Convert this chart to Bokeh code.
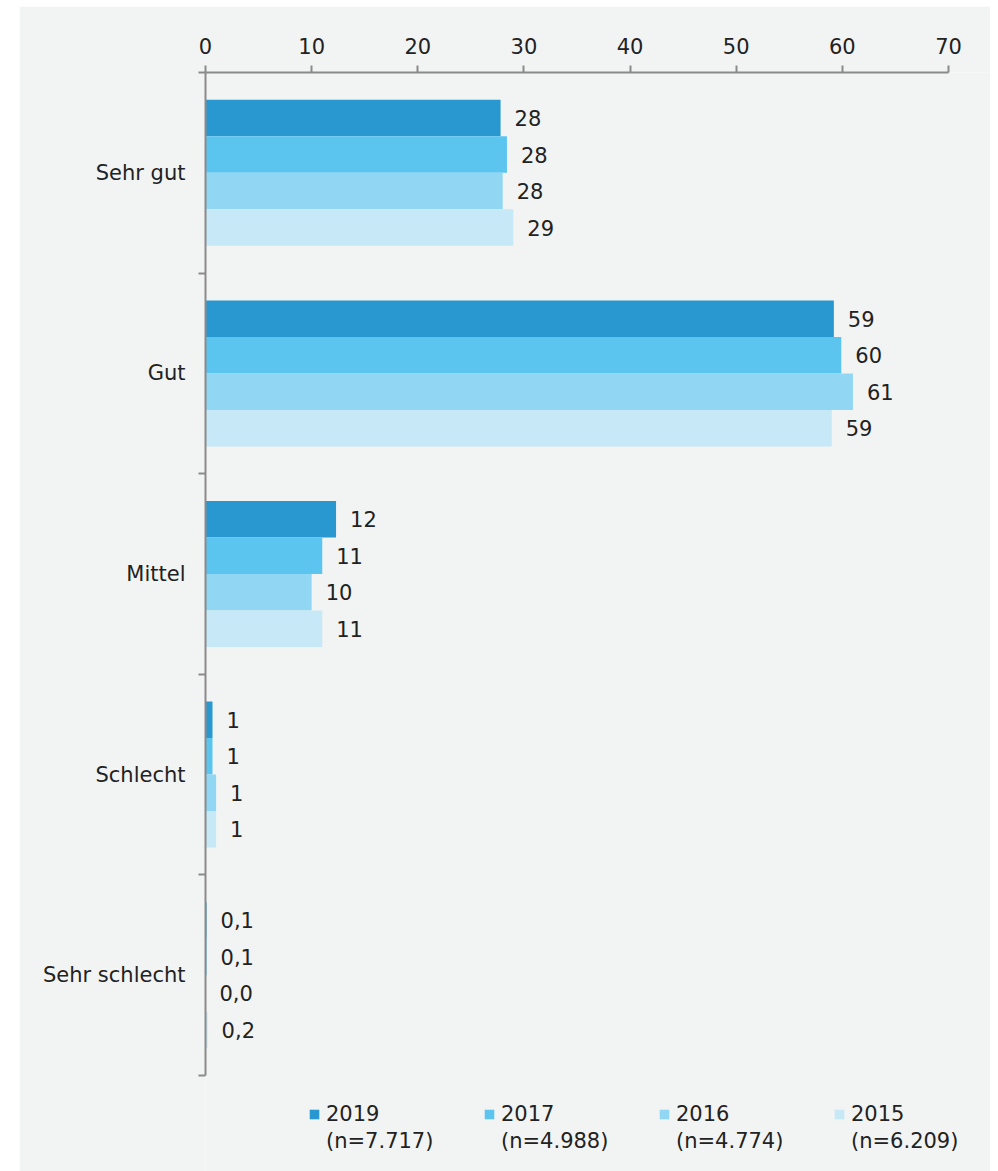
from bokeh.plotting import figure
from bokeh.models import ColumnDataSource, FixedTicker, Range1d, Legend, LegendItem
from bokeh.core.properties import value
from bokeh.embed import file_html
from bokeh.resources import INLINE

categories = ["Sehr gut", "Gut", "Mittel", "Schlecht", "Sehr schlecht"]
years = ["2019", "2017", "2016", "2015"]
sample_sizes = ["(n=7.717)", "(n=4.988)", "(n=4.774)", "(n=6.209)"]
v2019 = [27.8, 59.2, 12.3, 0.66, 0.1]
v2017 = [28.4, 59.9, 11.0, 0.66, 0.1]
v2016 = [28.0, 61.0, 10.0, 1.0, 0.0]
v2015 = [29.0, 59.0, 11.0, 1.0, 0.2]
labels2019 = ["28", "59", "12", "1", "0,1"]
labels2017 = ["28", "60", "11", "1", "0,1"]
labels2016 = ["28", "61", "10", "1", "0,0"]
labels2015 = ["29", "59", "11", "1", "0,2"]
x_ticks = [0, 10, 20, 30, 40, 50, 60, 70]

colors = ["#2998D0", "#5BC5F0", "#91D7F3", "#C6E8F7"]
series = [v2019, v2017, v2016, v2015]
series_labels = [labels2019, labels2017, labels2016, labels2015]

FONT_NAME = "DejaVu Sans"
FONT = value(FONT_NAME)
TXT = "#222222"
AX = "#8a8a8a"
BG = "#F2F4F3"

ncat = len(categories)
x_max = x_ticks[-1]
centers = [ncat - 0.5 - i for i in range(ncat)]
bar_h = 0.182
offsets = [1.5 * bar_h, 0.5 * bar_h, -0.5 * bar_h, -1.5 * bar_h]

# layout: the axes span 743 px (x) and 1003 px (y); the frame is extended by
# a 42 px strip on the right and a 96 px strip at the bottom for the legend
band_px = 1003 / ncat
unit_px = 743 / x_max
y_start = -96 / band_px
x_end = x_max + 42 / unit_px

p = figure(width=971, height=1165, output_backend="svg", toolbar_location=None,
           x_range=Range1d(0, x_end), y_range=Range1d(y_start, ncat),
           x_axis_location="above",
           min_border_left=186, min_border_right=0, min_border_top=66, min_border_bottom=0)
p.margin = (6, 8, 0, 19)
p.background_fill_color = BG
p.border_fill_color = BG
p.outline_line_color = None
p.xgrid.grid_line_color = None
p.ygrid.grid_line_color = None

items_a = []
items_b = []
for k, (vals, labs, col) in enumerate(zip(series, series_labels, colors)):
    src = ColumnDataSource(dict(
        y=[c + offsets[k] for c in centers],
        v=vals,
        lab=labs,
    ))
    r = p.hbar(y="y", left=0, right="v", height=bar_h, source=src,
               fill_color=col, line_color=None)
    p.text(x="v", y="y", text="lab", source=src, x_offset=14,
           text_baseline="middle", text_align="left",
           text_font=FONT, text_font_size="21px", text_color=TXT)
    items_a.append(LegendItem(label=years[k], renderers=[r]))
    items_b.append(LegendItem(label=sample_sizes[k], renderers=[]))

common = dict(orientation="horizontal", padding=0, margin=0, spacing=32,
              glyph_width=12, glyph_height=12, label_standoff=6, label_width=125,
              border_line_color=None, background_fill_alpha=0,
              label_text_font=FONT_NAME, label_text_font_size="21px",
              label_text_color=TXT, label_text_baseline="middle")
legend_a = Legend(items=items_a, location=(103, 45), **common)
legend_b = Legend(items=items_b, location=(103, 18), **common)
p.add_layout(legend_a, "center")
p.add_layout(legend_b, "center")

xa = p.xaxis[0]
xa.bounds = (0, x_max)
xa.ticker = FixedTicker(ticks=x_ticks)
xa.major_tick_out = 7
xa.major_tick_in = 0
xa.minor_tick_out = 0
xa.minor_tick_in = 0
xa.axis_line_color = AX
xa.axis_line_width = 2
xa.major_tick_line_color = AX
xa.major_tick_line_width = 2
xa.major_label_standoff = 12
xa.major_label_text_font = FONT_NAME
xa.major_label_text_font_size = "21px"
xa.major_label_text_color = TXT

ya = p.yaxis[0]
ya.bounds = (0, ncat)
ya.ticker = FixedTicker(ticks=centers, minor_ticks=list(range(ncat + 1)))
ya.major_label_overrides = {c: name for c, name in zip(centers, categories)}
ya.major_tick_out = 0
ya.major_tick_in = 0
ya.minor_tick_out = 7
ya.minor_tick_in = 0
ya.axis_line_color = AX
ya.axis_line_width = 2
ya.minor_tick_line_color = AX
ya.minor_tick_line_width = 2
ya.major_label_standoff = 13
ya.major_label_text_font = FONT_NAME
ya.major_label_text_font_size = "21px"
ya.major_label_text_color = TXT

open("out.html", "w").write(file_html(p, INLINE))
